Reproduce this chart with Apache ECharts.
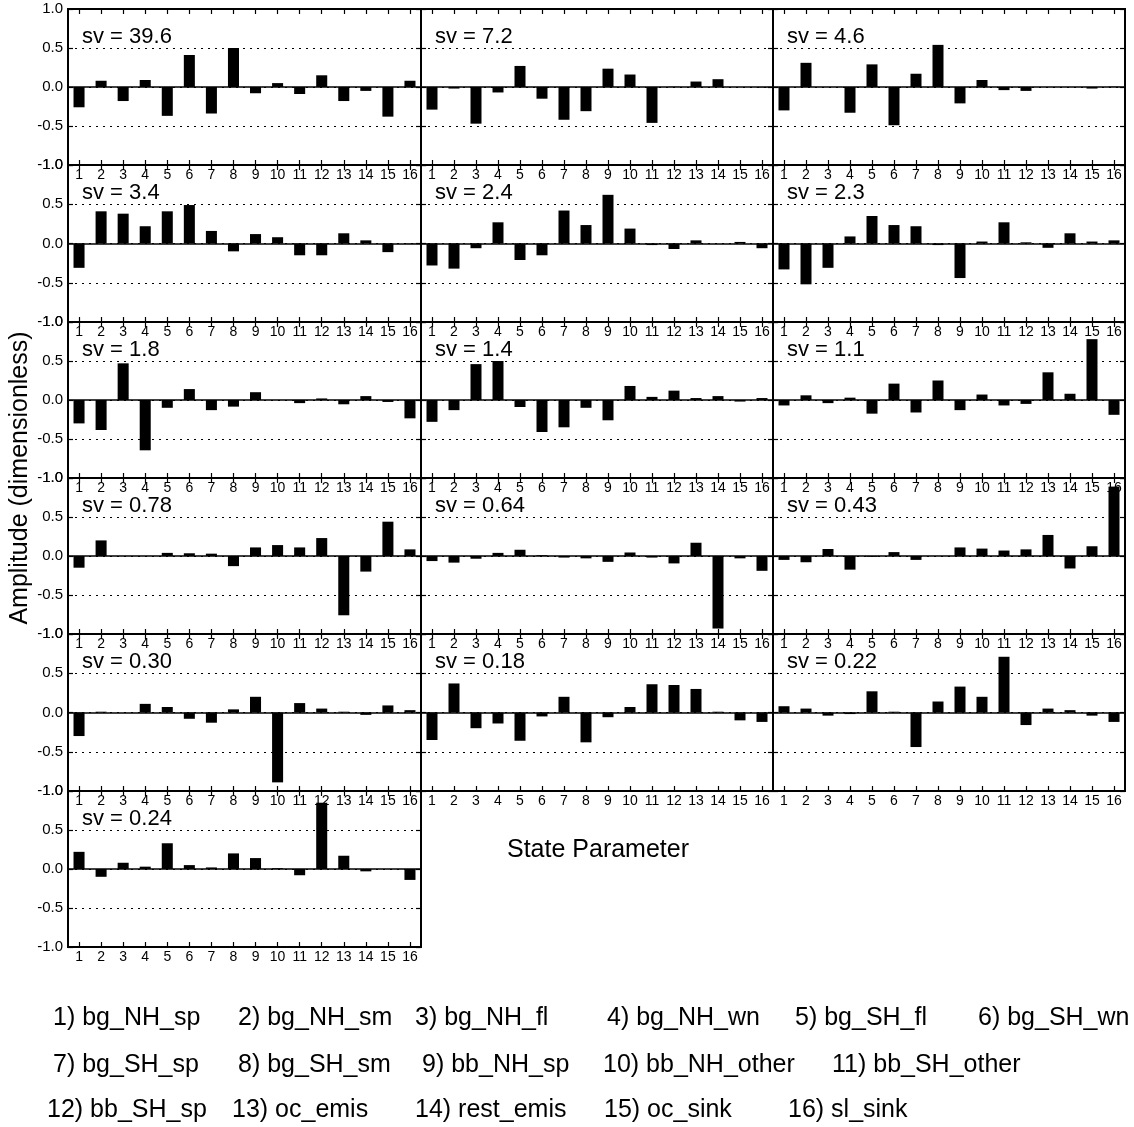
<!DOCTYPE html>
<html>
<head>
<meta charset="utf-8">
<script src="https://cdn.jsdelivr.net/npm/echarts@6/dist/echarts.min.js"></script>
<style>
html,body{margin:0;padding:0;background:#fff;}
#chart{width:1134px;height:1127px;}
</style>
</head>
<body>
<div id="chart"></div>
<script>
const categories = ['1','2','3','4','5','6','7','8','9','10','11','12','13','14','15','16'];
const yTickValues = [-1.0, -0.5, 0.0, 0.5, 1.0];
const svLabels = ['39.6','7.2','4.6','3.4','2.4','2.3','1.8','1.4','1.1','0.78','0.64','0.43','0.30','0.18','0.22','0.24'];

const amp01 = [-0.26, 0.08, -0.18, 0.09, -0.37, 0.41, -0.34, 0.50, -0.08, 0.05, -0.09, 0.15, -0.18, -0.05, -0.38, 0.08];
const amp02 = [-0.29, -0.02, -0.47, -0.07, 0.27, -0.15, -0.42, -0.31, 0.235, 0.16, -0.46, 0.003, 0.07, 0.10, 0.0, -0.004];
const amp03 = [-0.30, 0.31, 0.0, -0.33, 0.29, -0.49, 0.17, 0.54, -0.21, 0.09, -0.04, -0.05, 0.0, 0.0, -0.02, 0.004];
const amp04 = [-0.31, 0.41, 0.38, 0.22, 0.41, 0.49, 0.16, -0.10, 0.12, 0.08, -0.15, -0.15, 0.13, 0.04, -0.11, -0.004];
const amp05 = [-0.28, -0.32, -0.06, 0.27, -0.21, -0.15, 0.42, 0.235, 0.62, 0.19, -0.02, -0.07, 0.04, 0.0, 0.02, -0.06];
const amp06 = [-0.33, -0.52, -0.31, 0.09, 0.35, 0.235, 0.22, -0.02, -0.44, 0.025, 0.27, 0.015, -0.055, 0.13, 0.025, 0.04];
const amp07 = [-0.30, -0.385, 0.47, -0.645, -0.10, 0.14, -0.13, -0.085, 0.10, 0.0, -0.04, 0.02, -0.055, 0.05, -0.025, -0.235];
const amp08 = [-0.28, -0.13, 0.46, 0.50, -0.09, -0.41, -0.35, -0.10, -0.26, 0.18, 0.04, 0.12, 0.025, 0.05, -0.02, 0.025];
const amp09 = [-0.07, 0.06, -0.04, 0.03, -0.175, 0.21, -0.16, 0.25, -0.13, 0.07, -0.07, -0.05, 0.355, 0.08, 0.78, -0.19];
const amp10 = [-0.15, 0.20, 0.0, 0.0, 0.04, 0.035, 0.03, -0.13, 0.11, 0.14, 0.11, 0.23, -0.76, -0.20, 0.44, 0.085];
const amp11 = [-0.065, -0.085, -0.035, 0.04, 0.08, 0.01, -0.02, -0.03, -0.075, 0.045, -0.02, -0.095, 0.17, -0.93, -0.03, -0.19];
const amp12 = [-0.05, -0.08, 0.09, -0.175, -0.01, 0.05, -0.05, 0.0, 0.11, 0.095, 0.07, 0.085, 0.27, -0.16, 0.125, 0.89];
const amp13 = [-0.30, 0.01, 0.0, 0.11, 0.07, -0.08, -0.13, 0.04, 0.20, -0.89, 0.12, 0.05, 0.01, -0.03, 0.09, 0.03];
const amp14 = [-0.35, 0.37, -0.20, -0.14, -0.36, -0.05, 0.20, -0.38, -0.06, 0.07, 0.36, 0.35, 0.30, 0.01, -0.10, -0.12];
const amp15 = [0.08, 0.05, -0.04, -0.02, 0.27, 0.01, -0.44, 0.14, 0.33, 0.20, 0.71, -0.16, 0.05, 0.03, -0.04, -0.12];
const amp16 = [0.22, -0.10, 0.08, 0.03, 0.33, 0.05, 0.02, 0.20, 0.14, 0.01, -0.08, 0.85, 0.17, -0.03, 0.0, -0.14];
const amplitudes = [amp01, amp02, amp03, amp04, amp05, amp06, amp07, amp08, amp09, amp10, amp11, amp12, amp13, amp14, amp15, amp16];

const legendRow1 = ['1) bg_NH_sp','2) bg_NH_sm','3) bg_NH_fl','4) bg_NH_wn','5) bg_SH_fl','6) bg_SH_wn'];
const legendRow2 = ['7) bg_SH_sp','8) bg_SH_sm','9) bb_NH_sp','10) bb_NH_other','11) bb_SH_other'];
const legendRow3 = ['12) bb_SH_sp','13) oc_emis','14) rest_emis','15) oc_sink','16) sl_sink'];
const xTitle = 'State Parameter';
const yTitle = 'Amplitude (dimensionless)';

// layout
const FONT = '"Liberation Sans", Arial, Helvetica, sans-serif';
const colLeft = [68, 421, 773, 1125];
const rowTops = [9, 165, 322, 478, 634, 791, 947];

const grids = [], xAxes = [], yAxes = [], series = [], graphics = [];

amplitudes.forEach((vals, i) => {
  const row = Math.floor(i / 3), col = i % 3;
  const left = colLeft[col];
  const top = rowTops[row];
  const width = colLeft[col + 1] - left;
  const height = rowTops[row + 1] - top;
  grids.push({left: left, top: top, width: width, height: height, containLabel: false,
    show: true, borderColor: '#000', borderWidth: 2, backgroundColor: 'transparent'});
  const tickStyle = {show: true, inside: true, length: 5, alignWithLabel: true, lineStyle: {color: '#000', width: 1.2}};
  xAxes.push({type: 'category', gridIndex: i, data: categories, position: 'bottom',
    axisLine: {show: true, onZero: false, lineStyle: {color: '#000', width: 2}},
    axisTick: tickStyle,
    axisLabel: {show: true, color: '#000', fontSize: 14, fontFamily: FONT, margin: 3, interval: 0},
    splitLine: {show: false}});
  xAxes.push({type: 'category', gridIndex: i, data: categories, position: 'top',
    axisLine: {show: true, onZero: false, lineStyle: {color: '#000', width: 2}},
    axisTick: tickStyle,
    axisLabel: {show: false}, splitLine: {show: false}});
  const yCommon = {type: 'value', gridIndex: i, min: yTickValues[0], max: yTickValues[yTickValues.length - 1], interval: 0.5};
  yAxes.push(Object.assign({}, yCommon, {position: 'left',
    axisLine: {show: true, onZero: false, lineStyle: {color: '#000', width: 2}},
    axisTick: {show: true, inside: true, length: 5, lineStyle: {color: '#000', width: 1.2}},
    axisLabel: {show: col === 0, color: '#000', fontSize: 15, fontFamily: FONT, margin: 5,
      formatter: v => v.toFixed(1)},
    splitLine: {show: true, lineStyle: {color: '#000', width: 1, type: [2, 5]}}}));
  yAxes.push(Object.assign({}, yCommon, {position: 'right',
    axisLine: {show: true, onZero: false, lineStyle: {color: '#000', width: 2}},
    axisTick: {show: true, inside: true, length: 5, lineStyle: {color: '#000', width: 1.2}},
    axisLabel: {show: false}, splitLine: {show: false}}));
  series.push({type: 'bar', xAxisIndex: 2 * i, yAxisIndex: 2 * i, data: vals, barWidth: '50%',
    itemStyle: {color: '#000'}, silent: true,
    markLine: {silent: true, symbol: 'none', label: {show: false},
      lineStyle: {color: '#000', type: 'solid', width: 1.5}, data: [{yAxis: 0}]}});
  graphics.push({type: 'text', left: left + 14, top: top + 17, z: 100,
    style: {text: 'sv = ' + svLabels[i], font: '22px ' + FONT, fill: '#000'}});
});

graphics.push({type: 'text', x: 598, y: 850, z: 100,
  style: {text: xTitle, font: '25px ' + FONT, fill: '#000', textAlign: 'center', textVerticalAlign: 'middle'}});
graphics.push({type: 'text', x: 20, y: 478, rotation: Math.PI / 2, z: 100,
  style: {text: yTitle, font: '25px ' + FONT, fill: '#000', textAlign: 'center', textVerticalAlign: 'middle'}});

const legendX1 = [53, 238, 415, 607, 795, 978];
const legendX2 = [53, 238, 422, 603, 832];
const legendX3 = [47, 232, 415, 604, 788];
[[legendRow1, legendX1, 1018], [legendRow2, legendX2, 1065], [legendRow3, legendX3, 1110]].forEach(([items, xs, y]) => {
  items.forEach((t, k) => {
    graphics.push({type: 'text', x: xs[k], y: y, z: 100,
      style: {text: t, font: '25px ' + FONT, fill: '#000', textAlign: 'left', textVerticalAlign: 'middle'}});
  });
});

const chart = echarts.init(document.getElementById('chart'), null, {renderer: 'canvas'});
chart.setOption({
  backgroundColor: '#fff',
  animation: false,
  grid: grids,
  xAxis: xAxes,
  yAxis: yAxes,
  series: series,
  graphic: graphics
});
</script>
</body>
</html>
